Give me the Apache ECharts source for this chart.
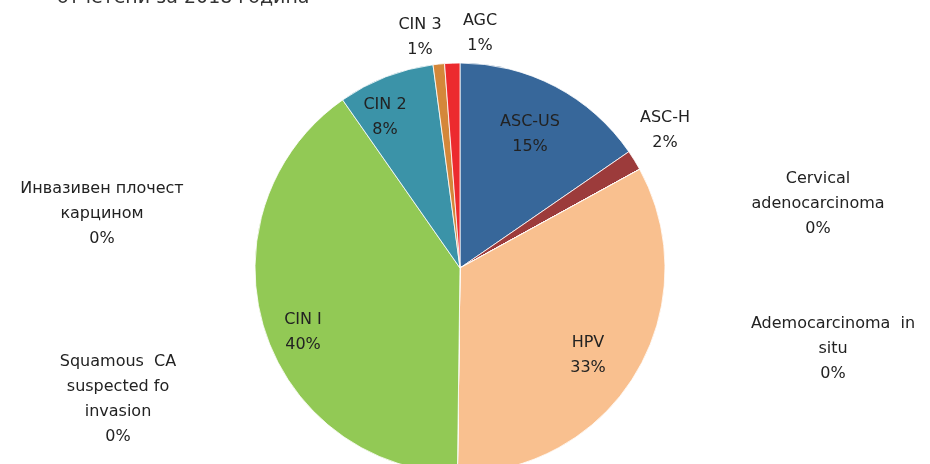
<!DOCTYPE html>
<html>
<head>
<meta charset="utf-8">
<script src="https://cdn.jsdelivr.net/npm/echarts@6/dist/echarts.min.js"></script>
<style>
  html, body { margin: 0; padding: 0; background: #fff; }
  #pie { width: 930px; height: 464px; }
</style>
</head>
<body>
<div id="pie"></div>
<script>
// slices, clockwise from 12 o'clock
var categories = ['ASC-US', 'ASC-H', 'Cervical adenocarcinoma', 'Ademocarcinoma in situ', 'HPV',
    'Squamous CA suspected fo invasion', 'Инвазивен плочест карцином', 'CIN I', 'CIN 2', 'CIN 3', 'AGC'];
var labelNames = ['ASC-US', 'ASC-H', 'Cervical\nadenocarcinoma', 'Ademocarcinoma  in\nsitu', 'HPV',
    'Squamous  CA\nsuspected fo\ninvasion', 'Инвазивен плочест\nкарцином', 'CIN I', 'CIN 2', 'CIN 3', 'AGC'];
var values = [15.4, 1.6, 0, 0, 33.2, 0, 0, 40.1, 7.6, 0.9, 1.2];
var colors = ['#37679A', '#9C3B3B', '#4A7AB0', '#B0B0B0', '#F9C08F', '#7F7F7F', '#5B5B5B',
    '#92C955', '#3B93A8', '#D4873A', '#EC2A2E'];

// label centres (layout only)
var labelPos = [[530, 134], [665, 130], [818, 204], [833, 349], [588, 355],
    [118, 399], [102, 214], [303, 332], [385, 117], [420, 37], [480, 33]];

var chart = echarts.init(document.getElementById('pie'));

var pie = categories.map(function (c, i) {
    return { name: c, value: values[i], itemStyle: { color: colors[i] } };
});

option = {
    animation: false,
    title: {
        text: 'отчетени за 2018 година',
        left: 52,
        top: -16,
        textStyle: { fontFamily: 'DejaVu Sans', fontSize: 19, fontWeight: 'normal', color: '#333' }
    },
    series: [{
        name: 'Резултати',
        type: 'pie',
        center: [460, 268],
        radius: 205,
        startAngle: 90,
        clockwise: true,
        avoidLabelOverlap: false,
        percentPrecision: 0,
        data: pie,
        itemStyle: { borderColor: '#fff', borderWidth: 0.8 },
        label: {
            show: true,
            position: 'outside',
            formatter: function (p) {
                return labelNames[p.dataIndex] + '\n' + p.percent + '%';
            },
            fontFamily: 'DejaVu Sans',
            fontSize: 16,
            lineHeight: 25,
            color: '#222'
        },
        labelLine: { show: false },
        labelLayout: function (p) {
            return {
                x: labelPos[p.dataIndex][0],
                y: labelPos[p.dataIndex][1],
                align: 'center',
                verticalAlign: 'middle'
            };
        }
    }]
};

chart.setOption(option);
</script>
</body>
</html>
